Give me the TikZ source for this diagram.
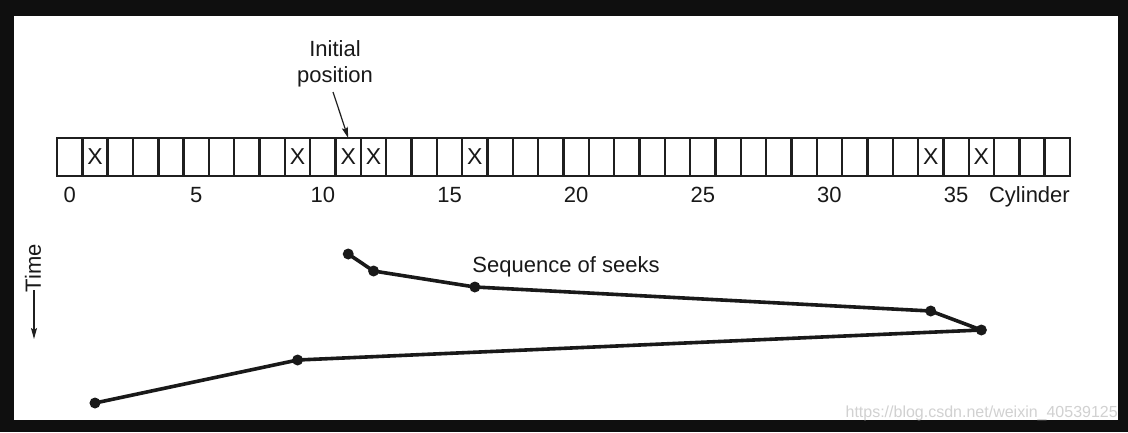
\documentclass[tikz,border=0pt]{standalone}
\usepackage{fontspec}
\setmainfont{Liberation Sans}
\usetikzlibrary{arrows.meta}
\begin{document}
\begin{tikzpicture}[x=1pt,y=-1pt,
  cellbox/.style={draw=black!88,line width=2.4pt,minimum width=25.325pt,minimum height=38pt,inner sep=0pt,outer sep=0pt,anchor=center},
  lbl/.style={inner sep=0pt,font=\fontsize{22}{26}\selectfont,text=black!90},
  xmark/.style={inner sep=0pt,font=\fontsize{23}{26}\selectfont,text=black!90},
  seek/.style={line width=3.6pt,black!90,line join=round},
  dotpt/.style={circle,fill=black!90,minimum size=11pt,inner sep=0pt},
  thinarrow/.style={line width=1.2pt,black!88,-{Stealth[length=11pt,width=6pt,inset=2pt]}}]
\fill[black!94] (0,0) rectangle (1128,432);
\fill[white] (14,16) rectangle (1118,420);
\useasboundingbox (0,0) rectangle (1128,432);
% cells
\foreach \k in {0,...,39}{
  \node[cellbox] (c\k) at ({57+25.325*(\k+0.5)},157) {};
}
\foreach \k in {1,9,11,12,16,34,36}{
  \node[xmark] (x\k) at (c\k.center) {X};
}
\draw[line width=2.8pt,black!88] (c0.north west) rectangle (c39.south east);
% axis labels
\foreach \k in {0,5,...,35}{
  \node[lbl,anchor=base] (n\k) at ({57+25.325*(\k+0.5)},202) {\k};
}
\node[lbl,anchor=base east] (cyl) at (1070,202) {Cylinder};
% initial position
\node[lbl,align=center] (init) at (335,64) {Initial\\position};
\draw[thinarrow] (333,92) -- (c11.north);
% seeks
\path (c11.center |- 0,254) coordinate (p1);
\path (c12.center |- 0,271) coordinate (p2);
\path (c16.center |- 0,287) coordinate (p3);
\path (c34.center |- 0,311) coordinate (p4);
\path (c36.center |- 0,330) coordinate (p5);
\path (c9.center |- 0,360) coordinate (p6);
\path (c1.center |- 0,403) coordinate (p7);
\draw[seek] (p1) -- (p2) -- (p3) -- (p4) -- (p5) -- (p6) -- (p7);
\foreach \i in {1,...,7}{ \node[dotpt] (d\i) at (p\i) {}; }
\node[lbl,anchor=base] (seq) at (566,272) {Sequence of seeks};
% time
\node[lbl,rotate=90] (time) at (33,268) {Time};
\coordinate (tend) at (34,339);
\draw[thinarrow] (34,290) -- (tend);
% watermark
\node[inner sep=0pt,anchor=east,text=black!18,font=\fontsize{16}{18}\selectfont] (wm) at (1118,413) {https://blog.csdn.net/weixin\_40539125};
\end{tikzpicture}
\end{document}
